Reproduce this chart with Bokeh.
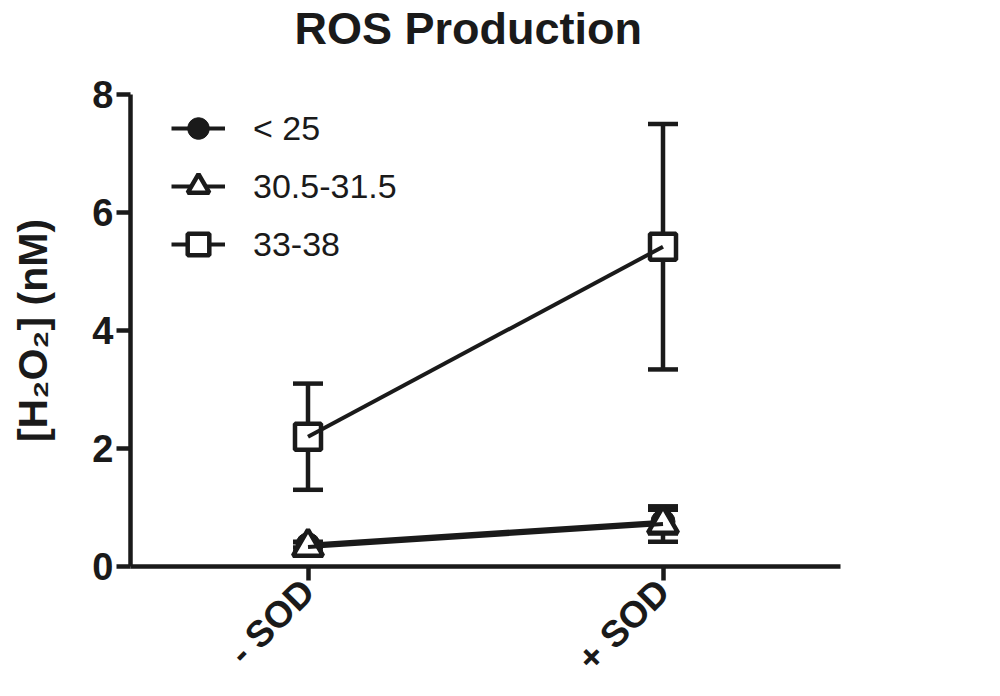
import math
from bokeh.plotting import figure
from bokeh.layouts import column
from bokeh.models import (ColumnDataSource, Whisker, TeeHead, Legend, LegendItem,
                          FixedTicker, Range1d)
from bokeh.embed import file_html
from bokeh.resources import INLINE

# ---- data ----
title_text = "ROS Production"
categories = ["- SOD", "+ SOD"]
x_pos = [1, 2]
series_names = ["< 25", "30.5-31.5", "33-38"]
lt25_mean = [0.37, 0.76]
lt25_err = [0.05, 0.2]
mid_mean = [0.33, 0.72]
mid_err = [0.08, 0.3]
hi_mean = [2.2, 5.42]
hi_err = [0.9, 2.08]
y_ticks = [0, 2, 4, 6, 8]

INK = "#1a1a1a"
FONT = "Liberation Sans"

W = 1000
TITLE_H = 62
MAIN_H = 634

# --- title strip ---
t = figure(width=W, height=TITLE_H, output_backend="svg", toolbar_location=None,
           x_axis_location=None, y_axis_location=None,
           min_border_left=0, min_border_right=62, min_border_top=0, min_border_bottom=0)
t.outline_line_color = None
t.xgrid.visible = False
t.ygrid.visible = False
t.title.text = title_text
t.title.text_font = FONT
t.title.text_font_size = "45px"
t.title.text_font_style = "bold"
t.title.text_color = INK
t.title.align = "left"
t.title.offset = 164
t.title.standoff = 0

# --- main chart ---
frame_top = 94 - TITLE_H
p = figure(width=W, height=MAIN_H, output_backend="svg", toolbar_location=None,
           x_range=Range1d(0.5, 2.5), y_range=Range1d(0, 8),
           min_border_left=130, min_border_right=W - 840, min_border_top=frame_top,
           min_border_bottom=MAIN_H - (566 - TITLE_H))
p.outline_line_color = None
p.xgrid.visible = False
p.ygrid.visible = False
p.background_fill_color = "white"
p.border_fill_color = "white"

def add_series(mean, err, marker, size, fill, lw):
    src = ColumnDataSource(dict(x=x_pos, y=mean,
                                lo=[m - e for m, e in zip(mean, err)],
                                hi=[m + e for m, e in zip(mean, err)]))
    w = Whisker(source=src, base="x", upper="hi", lower="lo", dimension="height",
                line_color=INK, line_width=4.5,
                upper_head=TeeHead(size=30, line_color=INK, line_width=4.5),
                lower_head=TeeHead(size=30, line_color=INK, line_width=4.5),
                level="underlay")
    p.add_layout(w)
    sc = p.scatter("x", "y", source=src, marker=marker, size=size,
                   fill_color=fill, line_color=INK, line_width=lw)
    ln = p.line("x", "y", source=src, line_color=INK, line_width=4)
    return ln, sc

r1 = add_series(lt25_mean, lt25_err, "circle", 24, INK, 1)
r2 = add_series(mid_mean, mid_err, "triangle", 30, "white", 4.5)
r3 = add_series(hi_mean, hi_err, "square", 26, "white", 4.5)

legend = Legend(items=[LegendItem(label=series_names[0], renderers=list(r1)),
                       LegendItem(label=series_names[1], renderers=list(r2)),
                       LegendItem(label=series_names[2], renderers=list(r3))],
                location=(41, 293), margin=0, padding=0, spacing=0,
                glyph_width=54, glyph_height=58, label_height=58,
                label_standoff=28, label_text_font=FONT, label_text_font_size="34px",
                label_text_color=INK, border_line_color=None,
                background_fill_alpha=0)
p.add_layout(legend, "center")

# axes
for ax in (p.xaxis[0], p.yaxis[0]):
    ax.axis_line_width = 4.5
    ax.axis_line_color = INK
    ax.major_tick_line_width = 4.5
    ax.major_tick_line_color = INK
    ax.major_tick_in = 0
    ax.major_tick_out = 14
    ax.minor_tick_line_color = None
    ax.major_label_text_font = FONT
    ax.major_label_text_font_style = "bold"
    ax.major_label_text_color = INK

p.yaxis.ticker = FixedTicker(ticks=y_ticks)
p.yaxis.major_label_text_font_size = "38px"
p.yaxis.major_label_standoff = 3
p.yaxis.axis_label = "[H\u2082O\u2082] (nM)"
p.yaxis.axis_label_text_font = FONT
p.yaxis.axis_label_text_font_size = "41px"
p.yaxis.axis_label_text_font_style = "bold"
p.yaxis.axis_label_text_color = INK
p.yaxis.axis_label_standoff = 33

p.xaxis.ticker = FixedTicker(ticks=x_pos)
p.xaxis.major_label_overrides = {x: c for x, c in zip(x_pos, categories)}
p.xaxis.major_label_text_font_size = "37px"
p.xaxis.major_label_orientation = math.pi / 4
p.xaxis.major_label_standoff = 5

layout = column(t, p, spacing=0)
open("out.html", "w").write(file_html(layout, INLINE))
